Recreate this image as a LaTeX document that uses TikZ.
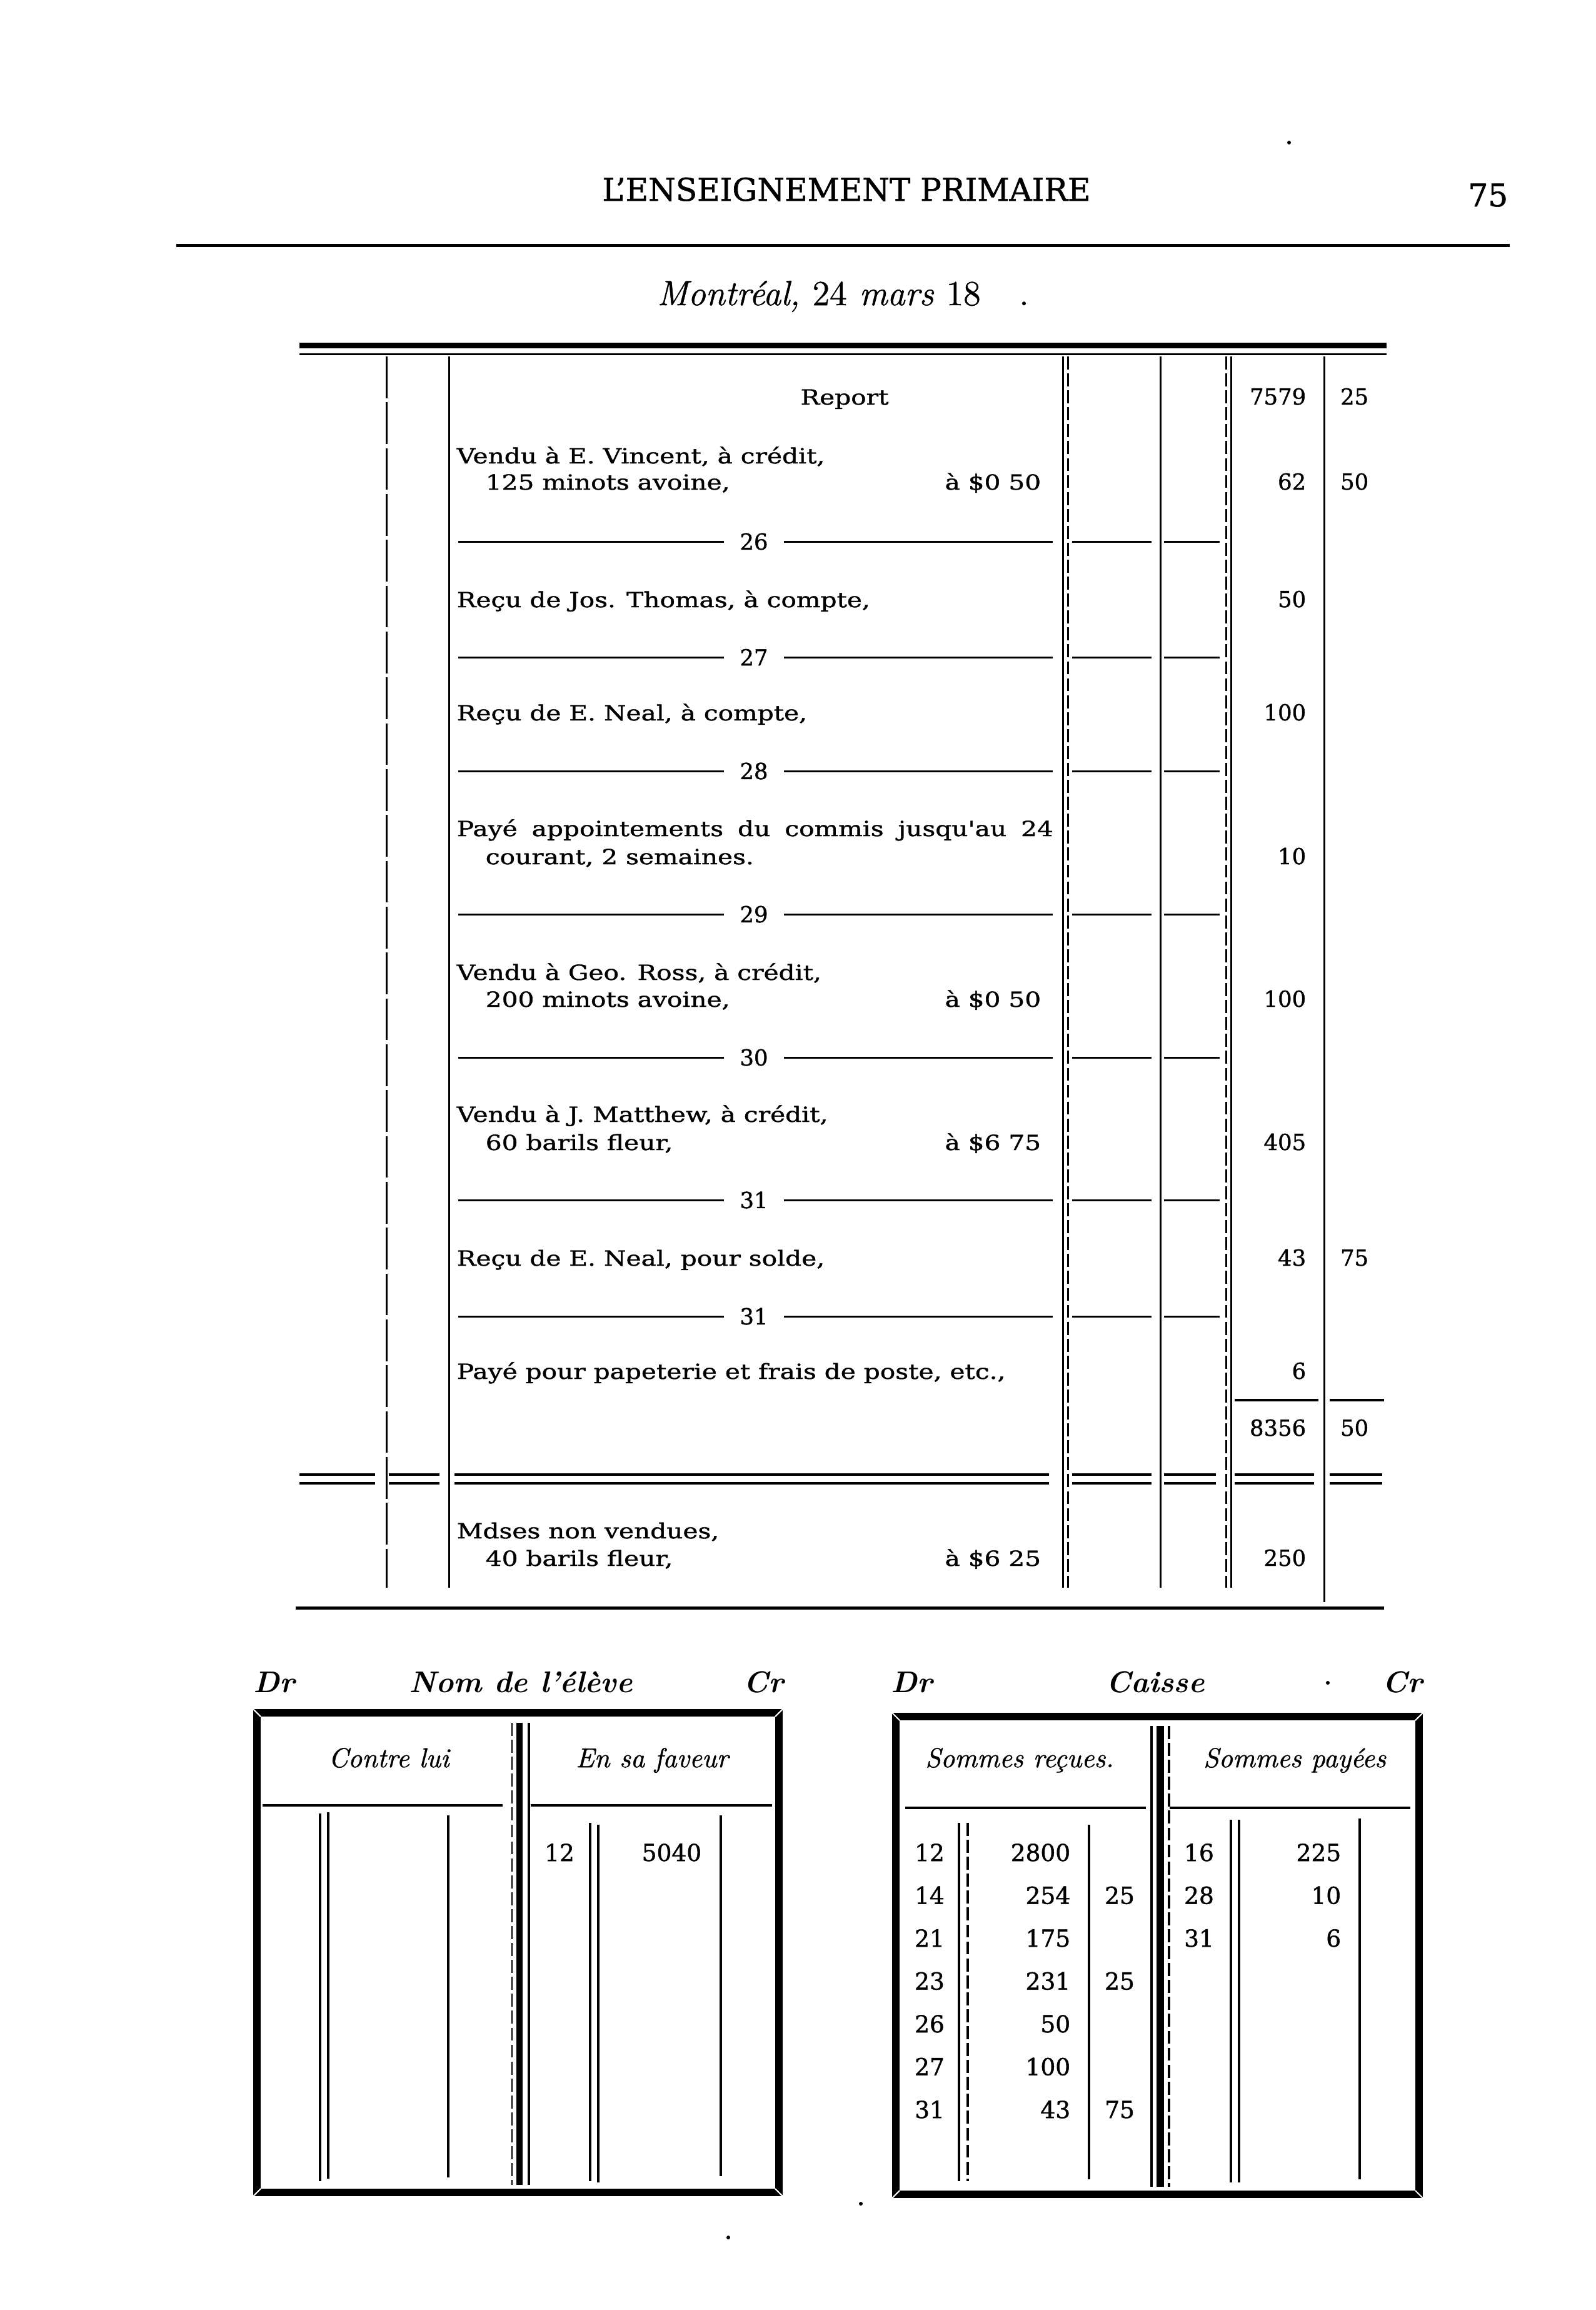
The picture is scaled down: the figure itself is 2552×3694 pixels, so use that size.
\documentclass[tikz,border=0pt]{standalone}
\usepackage{fontspec}
\newfontfamily\bodyfont[FakeStretch=1.22,FakeBold=1.2]{DejaVu Serif}
\newfontfamily\numfont[FakeBold=1.2]{DejaVu Serif}
\newfontfamily\headitfont[FakeBold=1]{Latin Modern Roman}
\begin{document}
\begin{tikzpicture}[x=0.24pt,y=-0.24pt,
  lt/.style={inner sep=0pt,anchor=base west,font={\bodyfont\fontsize{8}{10}\selectfont}},
  ct/.style={inner sep=0pt,anchor=base,font={\bodyfont\fontsize{8}{10}\selectfont}},
  rt/.style={inner sep=0pt,anchor=base east,font={\bodyfont\fontsize{8}{10}\selectfont}},
  amt/.style={inner sep=0pt,anchor=base east,font={\numfont\fontsize{8.5}{10}\selectfont}},
  seplab/.style={inner ysep=1pt,inner xsep=6pt,fill=white,anchor=center,font={\numfont\fontsize{8.5}{10}\selectfont}},
  vline/.style={line width=0.72pt},
  sepline/.style={line width=0.72pt},
  dbl/.style={line width=0.9pt},
  longdash/.style={dash pattern=on 16pt off 1.6pt},
  shortdash/.style={dash pattern=on 5pt off 1.5pt},
  bnum/.style={inner sep=0pt,anchor=base,font={\numfont\fontsize{9}{11}\selectfont}},
  bnumr/.style={inner sep=0pt,anchor=base east,font={\numfont\fontsize{9}{11}\selectfont}},
  titlefont/.style={inner sep=0pt,anchor=base,font={\numfont\fontsize{12}{14}\selectfont}},
  acct/.style={inner sep=0pt,anchor=base,font={\fontsize{11.5}{13}\selectfont\bfseries\itshape}},
  colhead/.style={inner sep=0pt,anchor=base,font={\headitfont\fontsize{10.5}{12}\selectfont\itshape}},
  frame/.style={line width=2.88pt},
  inner/.style={line width=1.1pt},
  speck/.style={fill=black}
]
\fill[white] (0,0) rectangle (2552,3694);
\useasboundingbox (0,0) rectangle (2552,3694);

% ---------- page head ----------
\node[titlefont] (hdr) at (1354,321) {L’ENSEIGNEMENT PRIMAIRE};
\node[titlefont,anchor=base east] (pg) at (2413,330) {75};
\draw[line width=1.2pt] (282,392) -- (2415,392);
\fill[speck] (2062,228) circle (3);
\node[inner sep=0pt,anchor=base,font={\headitfont\fontsize{13.5}{15}\selectfont\itshape}] (date) at (1310,488) {Montréal, \textup{24} mars \textup{18}};
\node[inner sep=0pt,anchor=base,font={\headitfont\fontsize{13.5}{15}\selectfont}] (datedot) at (1638,488) {.};

% ---------- journal table rules ----------
\draw[line width=2.16pt] (479,552) -- (2218,552);
\draw[line width=0.72pt] (479,566) -- (2218,566);

\draw[vline,longdash] (618,570) -- (618,2539);
\draw[vline] (718,570) -- (718,2539);
\draw[vline] (1700,570) -- (1700,2539);
\draw[vline,shortdash] (1708,570) -- (1708,2539);
\draw[vline] (1856,570) -- (1856,2539);
\draw[vline,shortdash] (1961,570) -- (1961,2539);
\draw[vline] (1969,570) -- (1969,2539);
\draw[vline] (2118,570) -- (2118,2562);

\foreach \y/\d [count=\i] in {866/26,1051/27,1233/28,1462/29,1691/30,1919/31,2105/31} {
  \draw[sepline] (733,\y) -- (1684,\y);
  \draw[sepline] (1715,\y) -- (1842,\y);
  \draw[sepline] (1862,\y) -- (1951,\y);
  \node[seplab] (sep\i) at (1206,\y) {\d};
}

\draw[line width=0.96pt] (1975,2239) -- (2109,2239);
\draw[line width=0.96pt] (2127,2239) -- (2214,2239);

\foreach \a/\b in {479/600,622/703,727/1678,1715/1842,1862/1945,1975/2102,2127/2211} {
  \draw[dbl] (\a,2358) -- (\b,2358);
  \draw[dbl] (\a,2372) -- (\b,2372);
}
\draw[line width=1.2pt] (473,2571) -- (2214,2571);

% ---------- journal table text ----------
\node[ct] (rep) at (1351,647) {Report};
\node[amt] (repA) at (2090,647) {7579};
\node[amt] (repB) at (2190,647) {25};

\node[lt] (e1a) at (730,741) {Vendu à E. Vincent, à crédit,};
\node[lt] (e1b) at (776,783) {125 minots avoine,};
\node[rt] (e1c) at (1666,783) {à \$0 50};
\node[amt] (e1A) at (2090,783) {62};
\node[amt] (e1B) at (2190,783) {50};

\node[lt] (e2a) at (730,971) {Reçu de Jos. Thomas, à compte,};
\node[amt] (e2A) at (2090,971) {50};

\node[lt] (e3a) at (730,1152) {Reçu de E. Neal, à compte,};
\node[amt] (e3A) at (2090,1152) {100};

\node[lt] (e4a) at (730,1337) {\makebox[229pt][s]{Payé appointements du commis jusqu'au 24}};
\node[lt] (e4b) at (776,1382) {courant, 2 semaines.};
\node[amt] (e4A) at (2090,1382) {10};

\node[lt] (e5a) at (730,1567) {Vendu à Geo. Ross, à crédit,};
\node[lt] (e5b) at (776,1610) {200 minots avoine,};
\node[rt] (e5c) at (1666,1610) {à \$0 50};
\node[amt] (e5A) at (2090,1610) {100};

\node[lt] (e6a) at (730,1794) {Vendu à J. Matthew, à crédit,};
\node[lt] (e6b) at (776,1839) {60 barils fleur,};
\node[rt] (e6c) at (1666,1839) {à \$6 75};
\node[amt] (e6A) at (2090,1839) {405};

\node[lt] (e7a) at (730,2024) {Reçu de E. Neal, pour solde,};
\node[amt] (e7A) at (2090,2024) {43};
\node[amt] (e7B) at (2190,2024) {75};

\node[lt] (e8a) at (730,2205) {Payé pour papeterie et frais de poste, etc.,};
\node[amt] (e8A) at (2090,2205) {6};

\node[amt] (totA) at (2090,2296) {8356};
\node[amt] (totB) at (2190,2296) {50};

\node[lt] (e9a) at (730,2460) {Mdses non vendues,};
\node[lt] (e9b) at (776,2504) {40 barils fleur,};
\node[rt] (e9c) at (1666,2504) {à \$6 25};
\node[amt] (e9A) at (2090,2504) {250};

% ---------- account: Nom de l'élève ----------
\node[acct,anchor=base west] (dr1) at (405,2706) {Dr};
\node[acct] (nom) at (833,2706) {Nom de l’élève};
\node[acct,anchor=base east] (cr1) at (1254,2706) {Cr};

\draw[frame] (411,2739) rectangle (1246,3506);
\draw[white,line width=0.5pt] (405,2733) -- (417,2745);
\draw[white,line width=0.5pt] (1252,2733) -- (1240,2745);
\draw[white,line width=0.5pt] (1252,3512) -- (1240,3500);
\draw[white,line width=0.5pt] (405,3512) -- (417,3500);

\draw[line width=1pt] (420,2887) -- (804,2887);
\draw[line width=1pt] (849,2887) -- (1235,2887);
\draw[line width=0.7pt,shortdash] (819,2755) -- (819,3494);
\draw[line width=2.4pt] (831,2755) -- (831,3494);
\draw[line width=0.8pt] (846,2755) -- (846,3494);

\draw[inner] (512,2900) -- (512,3488);
\draw[inner] (525,2898) -- (525,3484);
\draw[inner] (717,2903) -- (717,3482);
\draw[inner] (944,2915) -- (944,3488);
\draw[inner] (957,2918) -- (957,3490);
\draw[inner] (1153,2903) -- (1153,3480);

\node[colhead] (h1) at (622,2826) {Contre lui};
\node[colhead] (h2) at (1043,2826) {En sa faveur};
\node[bnum] (n1d) at (895,2976) {12};
\node[bnumr] (n1a) at (1123,2976) {5040};

% ---------- account: Caisse ----------
\node[acct,anchor=base west] (dr2) at (1425,2706) {Dr};
\node[acct] (caisse) at (1848,2706) {Caisse};
\node[acct,anchor=base east] (cr2) at (2276,2706) {Cr};
\fill[speck] (2124,2691) circle (3);

\draw[frame] (1433,2745) rectangle (2270,3509);
\draw[white,line width=0.5pt] (1427,2739) -- (1439,2751);
\draw[white,line width=0.5pt] (2276,2739) -- (2264,2751);
\draw[white,line width=0.5pt] (2276,3515) -- (2264,3503);
\draw[white,line width=0.5pt] (1427,3515) -- (1439,3503);

\draw[line width=1pt] (1448,2891) -- (1833,2891);
\draw[line width=1pt] (1871,2891) -- (2256,2891);
\draw[line width=0.8pt] (1842,2760) -- (1842,3497);
\draw[line width=2.88pt] (1856,2760) -- (1856,3497);
\draw[line width=0.8pt,shortdash] (1870,2760) -- (1870,3497);

\draw[inner] (1534,2915) -- (1534,3488);
\draw[inner,shortdash] (1548,2915) -- (1548,3488);
\draw[inner] (1742,2918) -- (1742,3485);
\draw[inner] (1969,2910) -- (1969,3490);
\draw[inner] (1982,2910) -- (1982,3490);
\draw[inner] (2175,2908) -- (2175,3485);

\node[colhead] (h3) at (1631,2826) {Sommes reçues.};
\node[colhead] (h4) at (2071,2826) {Sommes payées};

\foreach \d/\a/\c [count=\i] in {12/2800/,14/254/25,21/175/,23/231/25,26/50/,27/100/,31/43/75} {
  \pgfmathsetmacro{\yy}{2976+(\i-1)*68.5}
  \node[bnum] (rd\i) at (1487,\yy) {\d};
  \node[bnumr] (ra\i) at (1713,\yy) {\a};
  \node[bnum] (rc\i) at (1791,\yy) {\c};
}
\foreach \d/\a [count=\i] in {16/225,28/10,31/6} {
  \pgfmathsetmacro{\yy}{2976+(\i-1)*68.5}
  \node[bnum] (pd\i) at (1918,\yy) {\d};
  \node[bnumr] (pa\i) at (2146,\yy) {\a};
}

\fill[speck] (1377,3524) circle (3);
\fill[speck] (1165,3578) circle (3);
\end{tikzpicture}
\end{document}
